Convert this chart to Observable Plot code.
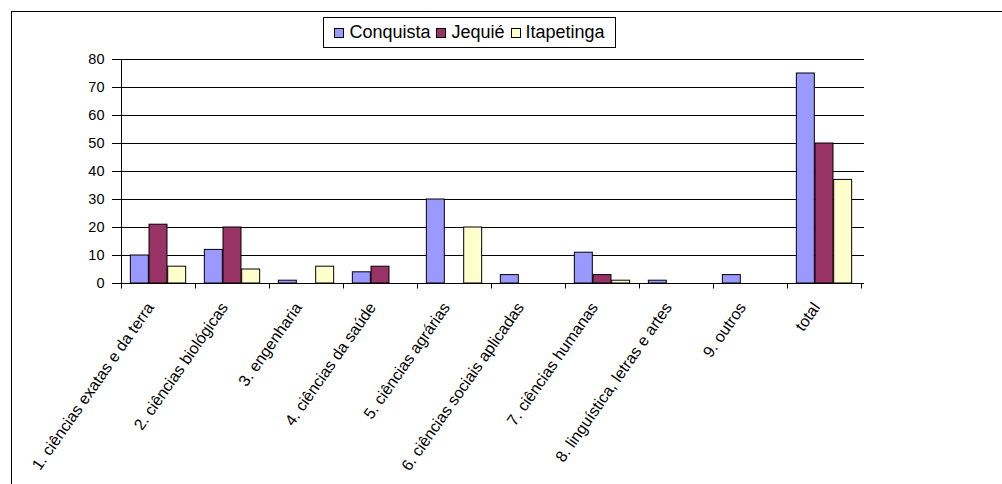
<!DOCTYPE html>
<html>
<head>
<meta charset="utf-8">
<script src="https://cdn.jsdelivr.net/npm/d3@7"></script>
<script src="https://cdn.jsdelivr.net/npm/@observablehq/plot@0.6"></script>
<style>
  body { margin: 0; background: #fff; font-family: "Liberation Sans", Arial, sans-serif; }
  #wrap { position: relative; width: 1002px; height: 484px; overflow: hidden; }
  #border { position: absolute; left: 11px; top: 11px; width: 1200px; height: 700px; border: 1px solid #000; box-sizing: border-box; }
  #chart { position: absolute; left: 0; top: 0; }
  #legend { position: absolute; left: 323px; top: 17px; width: 293px; height: 31px; box-sizing: border-box;
            border: 1px solid #000; background: #fff; display: flex; align-items: center; justify-content: center;
            font-size: 18px; color: #000; white-space: nowrap; }
  .item { display: flex; align-items: center; margin: 0 3px; }
  .sw { width: 8px; height: 8px; border: 1px solid #000; margin-right: 5px; }
</style>
</head>
<body>
<div id="wrap">
  <div id="border"></div>
  <div id="chart"></div>
  <div id="legend"></div>
</div>
<script>
const categories = [
  "1. ciências exatas e da terra",
  "2. ciências biológicas",
  "3. engenharia",
  "4. ciências da saúde",
  "5. ciências agrárias",
  "6. ciências sociais aplicadas",
  "7. ciências humanas",
  "8. linguística, letras e artes",
  "9. outros",
  "total"
];
const series = ["Conquista", "Jequié", "Itapetinga"];
const conquista  = [10, 12, 1, 4, 30, 3, 11, 1, 3, 75];
const jequie     = [21, 20, 0, 6, 0, 0, 3, 0, 0, 50];
const itapetinga = [6, 5, 6, 0, 20, 0, 1, 0, 0, 37];
const yTicks = [0, 10, 20, 30, 40, 50, 60, 70, 80];
const colors = ["#9999FF", "#993366", "#FFFFCC"];

const valuesBySeries = [conquista, jequie, itapetinga];
const rows = [];
series.forEach((s, si) => categories.forEach((c, ci) => rows.push({category: c, series: s, si, value: valuesBySeries[si][ci]})));

const W = 1002, H = 484;
const margin = {top: 59, right: 138, bottom: 201, left: 117};
const bw = (W - margin.left - margin.right) / categories.length;
const step = bw / (series.length + 1);

const barMarks = series.map((s, si) =>
  Plot.barY(rows.filter(d => d.si === si && d.value > 0), {
    x: "category", y: "value", fill: colors[si], stroke: "#000", strokeWidth: 1,
    insetLeft: step * (0.5 + si), insetRight: bw - step * (1.5 + si)
  })
);

function axisLines(index, scales) {
  const x = scales.x, y = scales.y;
  const w = x.bandwidth();
  const xs = categories.map(c => x(c)).concat([x(categories[categories.length - 1]) + w]);
  const y0 = Math.round(y(0)) + 0.5;
  const g = d3.create("svg:g").attr("stroke", "#000").attr("stroke-width", 1).attr("fill", "none");
  for (const px of xs) {
    const p = Math.round(px) + 0.5;
    g.append("line").attr("x1", p).attr("x2", p).attr("y1", y0).attr("y2", y0 + 5);
  }
  const xl = Math.round(x(categories[0])) + 0.5;
  g.append("line").attr("x1", xl).attr("x2", xl).attr("y1", Math.round(y(yTicks[yTicks.length - 1])) + 0.5).attr("y2", y0);
  return g.node();
}

const plot = Plot.plot({
  width: W, height: H,
  marginTop: margin.top, marginRight: margin.right, marginBottom: margin.bottom, marginLeft: margin.left,
  style: {fontFamily: "Liberation Sans, Arial, sans-serif", fontSize: "14px", background: "transparent", color: "#000", overflow: "visible"},
  x: {domain: categories, padding: 0},
  y: {domain: [0, 80]},
  marks: [
    Plot.ruleY(yTicks, {stroke: "#000", strokeWidth: 1}),
    ...barMarks,
    Plot.ruleY([0], {stroke: "#000"}),
    Plot.axisY({ticks: yTicks, tickSize: 5, tickPadding: 8, fontSize: 14.5, label: null}),
    Plot.axisX({tickRotate: -55, tickSize: 0, tickPadding: 11, dx: -8, dy: 10, fontSize: 16, label: null}),
    axisLines
  ]
});
document.getElementById("chart").appendChild(plot);

const legend = document.getElementById("legend");
series.forEach((s, i) => {
  const it = document.createElement("div");
  it.className = "item";
  const sw = document.createElement("span");
  sw.className = "sw";
  sw.style.background = colors[i];
  const t = document.createElement("span");
  t.textContent = s;
  it.appendChild(sw); it.appendChild(t);
  legend.appendChild(it);
});
</script>
</body>
</html>
